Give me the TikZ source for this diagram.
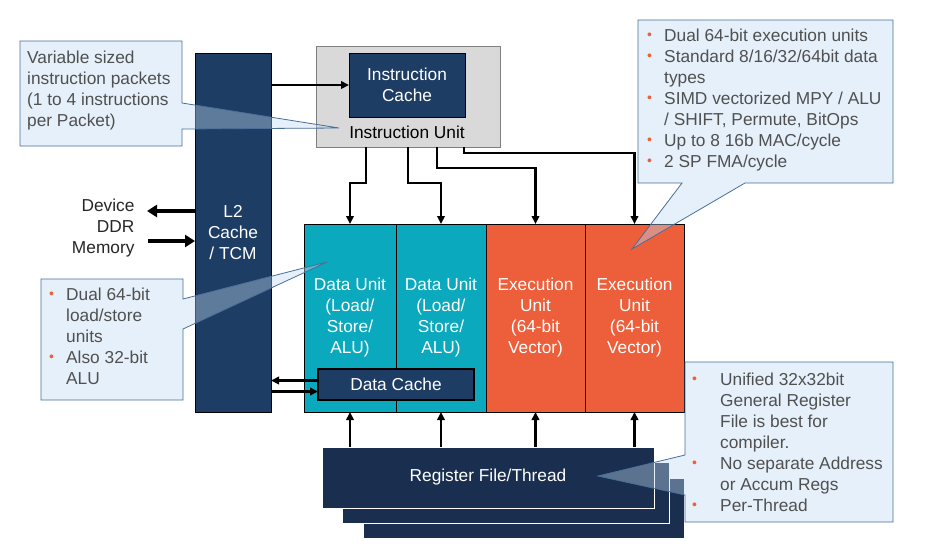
\documentclass[tikz,border=0pt]{standalone}
\usepackage{fontspec}
\setmainfont{Liberation Sans}
\usepackage{tikz}
\usetikzlibrary{arrows.meta}

\definecolor{cachenavy}{RGB}{30,61,100}
\definecolor{regnavy}{RGB}{26,47,79}
\definecolor{dataunit}{RGB}{10,169,189}
\definecolor{execunit}{RGB}{237,94,59}
\definecolor{iugray}{RGB}{217,217,217}
\definecolor{notefill}{RGB}{192,217,242}
\definecolor{noteline}{RGB}{74,110,153}
\definecolor{notegray}{RGB}{80,80,80}
\definecolor{notedot}{RGB}{232,96,60}

\newcommand\bul[1]{\makebox[#1][l]{\hspace{1pt}\raisebox{2pt}{\textcolor{notedot}{\fontsize{14}{14}\selectfont\textbullet}}}}

\begin{document}
\begin{tikzpicture}[x=1pt, y=-1pt,
        font=\fontsize{17.3}{21}\selectfont,
        unit/.style={draw, line width=1pt, inner sep=0pt, outer sep=0pt, anchor=north west, text=white, align=center},
        regfile/.style={draw=white, line width=1pt, fill=regnavy, inner sep=0pt, outer sep=0pt, anchor=north west},
        flow/.style={line width=2.2pt, -{Triangle[length=8pt,width=7.5pt]}},
        ddrflow/.style={line width=4pt, -{Triangle[length=10pt,width=12pt]}},
        notebox/.style={draw=noteline, line width=0.8pt, fill=notefill, fill opacity=0.4},
        notelines/.style={text=notegray, inner sep=0pt, anchor=base west}]
    \useasboundingbox (0,0) rectangle (925,544);

    \node[unit, fill=cachenavy, minimum width=76pt, minimum height=359pt] (l2) at (195,53) {L2\\Cache\\/ TCM};

    \node[unit, fill=iugray, draw=gray, minimum width=184pt, minimum height=101pt] (iu) at (316,46) {};
    \node[unit, fill=cachenavy, minimum width=116pt, minimum height=64pt] (icache) at (349,53) {Instruction\\Cache};
    \node (iulabel) at (407,132) {Instruction Unit};

    \node[unit, fill=dataunit, minimum width=92pt, minimum height=188pt] (du1) at (304,224) {Data Unit\\(Load/\\Store/\\ALU)};
    \node[unit, fill=dataunit, minimum width=90pt, minimum height=188pt] (du2) at (396,224) {Data Unit\\(Load/\\Store/\\ALU)};
    \node[unit, fill=execunit, minimum width=99pt, minimum height=188pt] (eu1) at (486,224) {Execution\\Unit\\(64-bit\\Vector)};
    \node[unit, fill=execunit, minimum width=99pt, minimum height=188pt] (eu2) at (585,224) {Execution\\Unit\\(64-bit\\Vector)};
    \node[unit, fill=cachenavy, line width=1.3pt, minimum width=156pt, minimum height=31pt] (dcache) at (318,369) {Data Cache};

    \node[regfile, minimum width=321pt, minimum height=60pt] (rf3) at (363,478) {};
    \node[regfile, minimum width=327pt, minimum height=61pt] (rf2) at (342,462) {};
    \node[regfile, text=white, minimum width=332pt, minimum height=61pt] (rf) at (322,447) {Register File/Thread};

    \node[anchor=east, align=right, text=black!85] (mem) at (138,228) {Device\\DDR\\Memory};

    \draw[flow] (l2.east |- icache.west) -- (icache.west);
    \draw[flow] ([xshift=50pt]iu.south west) -- ++(0,36) -| (du1.north);
    \draw[flow] ([xshift=92pt]iu.south west) -- ++(0,36) -| (du2.north);
    \draw[flow] ([xshift=121pt]iu.south west) -- ++(0,21) -| (eu1.north);
    \draw[flow] ([xshift=148pt]iu.south west) -- ++(0,6) -| (eu2.north);

    \coordinate (dcout) at ([yshift=4pt]dcache.west);
    \coordinate (dcin) at ([yshift=-7pt]dcache.west);
    \draw[flow] (dcout) -- (dcout -| l2.east);
    \draw[flow] (dcin -| l2.east) -- (dcin);

    \foreach \u in {du1,du2,eu1,eu2}
        \draw[flow] (\u.south |- rf.north) -- (\u.south);

    \coordinate (ddrout) at ([xshift=9pt,yshift=17pt]mem.east);
    \coordinate (ddrin) at ([xshift=10pt,yshift=-13pt]mem.east);
    \draw[ddrflow] (ddrout -| l2.west) -- (ddrout);
    \draw[ddrflow] (ddrin) -- (ddrin -| l2.west);

    \coordinate (pkttip) at (339,128);
    \draw[notebox] (20,41) -- (182,41) -- (182,103) -- (pkttip) -- (182,129) -- (182,146) -- (20,146) -- cycle;
    \node[notelines] (pktnote) at (27,63.3) {\begin{tabular}[t]{@{}l@{}}Variable sized\\instruction packets\\(1 to 4 instructions\\per Packet)\end{tabular}};

    \coordinate (eutip) at (632,249);
    \draw[notebox] (638,20) -- (893,20) -- (893,183) -- (745,183) -- (eutip) -- (682,183) -- (638,183) -- cycle;
    \node[notelines] (eunote) at (646,41.7) {\begin{tabular}[t]{@{}l@{}l@{}}
        \bul{18pt} & Dual 64-bit execution units\\
        \bul{18pt} & Standard 8/16/32/64bit data\\
         & types\\
        \bul{18pt} & SIMD vectorized MPY / ALU\\
         & / SHIFT, Permute, BitOps\\
        \bul{18pt} & Up to 8 16b MAC/cycle\\
        \bul{18pt} & 2 SP FMA/cycle
    \end{tabular}};

    \coordinate (dutip) at (327,262);
    \draw[notebox] (41,279) -- (183,279) -- (183,299) -- (dutip) -- (183,329) -- (183,400) -- (41,400) -- cycle;
    \node[notelines] (dunote) at (48,300.7) {\begin{tabular}[t]{@{}l@{}l@{}}
        \bul{18pt} & Dual 64-bit\\
         & load/store\\
         & units\\
        \bul{18pt} & Also 32-bit\\
         & ALU
    \end{tabular}};

    \coordinate (rftip) at (598,476);
    \draw[notebox] (685,362) -- (893,362) -- (893,522) -- (685,522) -- (685,495) -- (rftip) -- (685,455) -- cycle;
    \node[notelines] (rfnote) at (691,385.7) {\begin{tabular}[t]{@{}l@{}l@{}}
        \bul{29pt} & Unified 32x32bit\\
         & General Register\\
         & File is best for\\
         & compiler.\\
        \bul{29pt} & No separate Address\\
         & or Accum Regs\\
        \bul{29pt} & Per-Thread
    \end{tabular}};
\end{tikzpicture}
\end{document}
